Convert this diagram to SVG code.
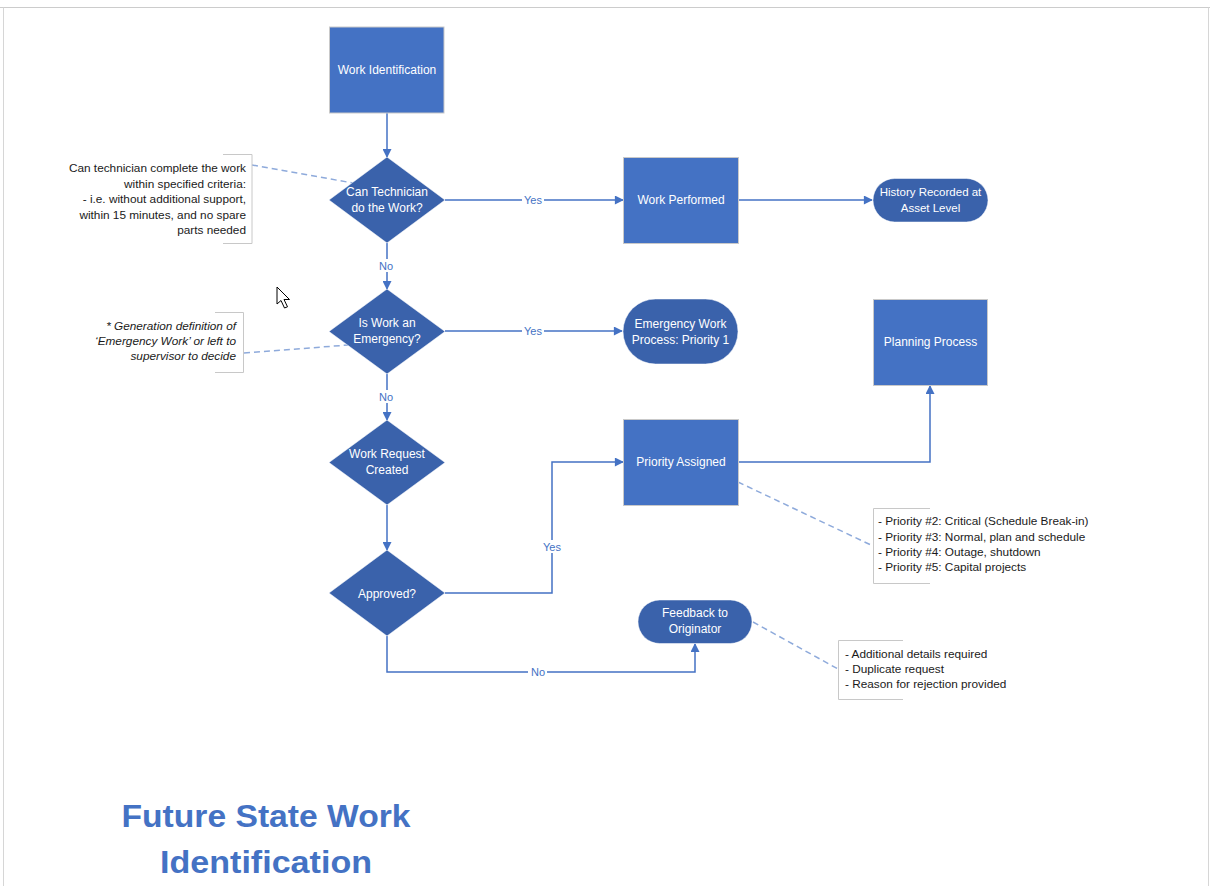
<svg xmlns="http://www.w3.org/2000/svg" width="1210" height="886" viewBox="0 0 1210 886">
<defs>
<style>
.rect{fill:#4472C4;stroke:#C9C9C9;stroke-width:1}
.dark{fill:#3A62AB;stroke:#FFFFFF;stroke-width:0.5}
.nt{font-family:"Liberation Sans",Arial,sans-serif;font-size:12px;fill:#FFFFFF;text-anchor:middle}
.nts{font-family:"Liberation Sans",Arial,sans-serif;font-size:11.5px;fill:#FFFFFF;text-anchor:middle}
.conn{fill:none;stroke:#4472C4;stroke-width:1.5}
.lbl{font-family:"Liberation Sans",Arial,sans-serif;font-size:11px;fill:#4472C4;text-anchor:middle}
.lblbg{fill:#FFFFFF}
.dash{fill:none;stroke:#8EAADB;stroke-width:1.5;stroke-dasharray:6 4}
.brk{fill:none;stroke:#C8C8C8;stroke-width:1}
.at{font-family:"Liberation Sans",Arial,sans-serif;font-size:11.8px;fill:#1A1A1A}
.title{font-family:"Liberation Sans",Arial,sans-serif;font-size:32px;font-weight:bold;fill:#4472C4;text-anchor:middle}
</style>
<marker id="arr" viewBox="0 0 10 10" refX="9" refY="5" markerWidth="10" markerHeight="9" markerUnits="userSpaceOnUse" orient="auto">
<path d="M0,0 L10,5 L0,10 Z" fill="#4472C4"/>
</marker>
</defs>
<rect x="0" y="0" width="1210" height="886" fill="#FFFFFF"/>
<g id="frame">
<line x1="0" y1="7.5" x2="1210" y2="7.5" stroke="#CCCCCC" stroke-width="1"/>
<line x1="3.5" y1="7.5" x2="3.5" y2="886" stroke="#D6D6D6" stroke-width="1"/>
<line x1="1208.5" y1="7.5" x2="1208.5" y2="886" stroke="#D6D6D6" stroke-width="1"/>
</g>
<g id="connectors">
<line class="conn" x1="387" y1="113" x2="387" y2="157" marker-end="url(#arr)"/>
<line class="conn" x1="445" y1="200" x2="623" y2="200" marker-end="url(#arr)"/>
<line class="conn" x1="738" y1="200" x2="872" y2="200" marker-end="url(#arr)"/>
<line class="conn" x1="387" y1="243" x2="387" y2="289" marker-end="url(#arr)"/>
<line class="conn" x1="445" y1="331" x2="622" y2="331" marker-end="url(#arr)"/>
<line class="conn" x1="387" y1="374" x2="387" y2="420" marker-end="url(#arr)"/>
<line class="conn" x1="387" y1="505" x2="387" y2="550" marker-end="url(#arr)"/>
<polyline class="conn" points="445,593 552,593 552,462 623,462" marker-end="url(#arr)"/>
<polyline class="conn" points="387,636 387,672 695,672 695,644" marker-end="url(#arr)"/>
<polyline class="conn" points="738,462 930,462 930,386" marker-end="url(#arr)"/>
<rect class="lblbg" x="522" y="193" width="22" height="13"/>
<text class="lbl" x="533" y="204">Yes</text>
<rect class="lblbg" x="522" y="324" width="22" height="13"/>
<text class="lbl" x="533" y="335">Yes</text>
<rect class="lblbg" x="377" y="259" width="19" height="13"/>
<text class="lbl" x="386" y="270">No</text>
<rect class="lblbg" x="377" y="390" width="19" height="13"/>
<text class="lbl" x="386" y="401">No</text>
<rect class="lblbg" x="541" y="540" width="22" height="13"/>
<text class="lbl" x="552" y="551">Yes</text>
<rect class="lblbg" x="528" y="665" width="19" height="13"/>
<text class="lbl" x="538" y="676">No</text>
</g>
<g id="annotation-lines">
<line class="dash" x1="252" y1="165" x2="364" y2="185"/>
<line class="dash" x1="244" y1="353" x2="348" y2="345"/>
<line class="dash" x1="738" y1="482" x2="873" y2="546"/>
<line class="dash" x1="753" y1="622" x2="838" y2="669"/>
</g>
<g id="n-work-identification">
<rect class="rect" x="329.5" y="27" width="114.5" height="86"/>
<text class="nt" x="387" y="74">Work Identification</text>
</g>
<g id="n-can-technician">
<polygon class="dark" points="387,157 445,200 387,243 329,200"/>
<text class="nt" x="387" y="196">Can Technician</text>
<text class="nt" x="387" y="212">do the Work?</text>
</g>
<g id="n-work-performed">
<rect class="rect" x="623.5" y="157.5" width="115" height="86"/>
<text class="nt" x="681" y="204">Work Performed</text>
</g>
<g id="n-history">
<rect class="dark" x="873" y="178.5" width="115" height="43.5" rx="21.75"/>
<text class="nts" x="930.5" y="196">History Recorded at</text>
<text class="nts" x="930.5" y="212">Asset Level</text>
</g>
<g id="n-emergency">
<polygon class="dark" points="387,289 445,331.5 387,374 329,331.5"/>
<text class="nt" x="387" y="327">Is Work an</text>
<text class="nt" x="387" y="343">Emergency?</text>
</g>
<g id="n-emergency-process">
<rect class="dark" x="623" y="299" width="115" height="65" rx="32.5"/>
<text class="nt" x="680.5" y="328">Emergency Work</text>
<text class="nt" x="680.5" y="344">Process: Priority 1</text>
</g>
<g id="n-planning">
<rect class="rect" x="873.5" y="299.5" width="114" height="86"/>
<text class="nt" x="930.5" y="346">Planning Process</text>
</g>
<g id="n-work-request">
<polygon class="dark" points="387,420 445,462.5 387,505 329,462.5"/>
<text class="nt" x="387" y="458">Work Request</text>
<text class="nt" x="387" y="474">Created</text>
</g>
<g id="n-priority-assigned">
<rect class="rect" x="623.5" y="419.5" width="115" height="86"/>
<text class="nt" x="681" y="466">Priority Assigned</text>
</g>
<g id="n-approved">
<polygon class="dark" points="387,550 445,593 387,636 329,593"/>
<text class="nt" x="387" y="598">Approved?</text>
</g>
<g id="n-feedback">
<rect class="dark" x="638" y="600" width="114" height="43.5" rx="21.75"/>
<text class="nt" x="695" y="617">Feedback to</text>
<text class="nt" x="695" y="633">Originator</text>
</g>
<g id="a-technician-criteria">
<polyline class="brk" points="223,154.5 252,154.5 252,243.5 223,243.5"/>
<text class="at" text-anchor="end" x="246" y="172">Can technician complete the work</text>
<text class="at" text-anchor="end" x="246" y="188">within specified criteria:</text>
<text class="at" text-anchor="end" x="246" y="203">- i.e. without additional support,</text>
<text class="at" text-anchor="end" x="246" y="219">within 15 minutes, and no spare</text>
<text class="at" text-anchor="end" x="246" y="234">parts needed</text>
</g>
<g id="a-emergency-definition">
<polyline class="brk" points="215,312.5 243.5,312.5 243.5,372.5 215,372.5"/>
<text class="at" text-anchor="end" font-style="italic" x="236" y="330">* Generation definition of</text>
<text class="at" text-anchor="end" font-style="italic" x="236" y="345">‘Emergency Work’ or left to</text>
<text class="at" text-anchor="end" font-style="italic" x="236" y="360">supervisor to decide</text>
</g>
<g id="a-priorities">
<polyline class="brk" points="930,508.5 873.5,508.5 873.5,583.5 930,583.5"/>
<text class="at" x="878" y="525">- Priority #2: Critical (Schedule Break-in)</text>
<text class="at" x="878" y="541">- Priority #3: Normal, plan and schedule</text>
<text class="at" x="878" y="556">- Priority #4: Outage, shutdown</text>
<text class="at" x="878" y="571">- Priority #5: Capital projects</text>
</g>
<g id="a-feedback-reasons">
<polyline class="brk" points="903,640.5 838.5,640.5 838.5,699.5 903,699.5"/>
<text class="at" x="845" y="658">- Additional details required</text>
<text class="at" x="845" y="673">- Duplicate request</text>
<text class="at" x="845" y="688">- Reason for rejection provided</text>
</g>
<g id="cursor">
<path d="M277,287 L277,304 L281,300.5 L284.5,308 L287.5,306.8 L284,299.5 L289.5,299.5 Z" fill="#FFFFFF" stroke="#000000" stroke-width="1" stroke-linejoin="round"/>
</g>
<g id="title">
<text class="title" x="266" y="827" textLength="289" lengthAdjust="spacingAndGlyphs">Future State Work</text>
<text class="title" x="266" y="873" textLength="212" lengthAdjust="spacingAndGlyphs">Identification</text>
</g>
</svg>
